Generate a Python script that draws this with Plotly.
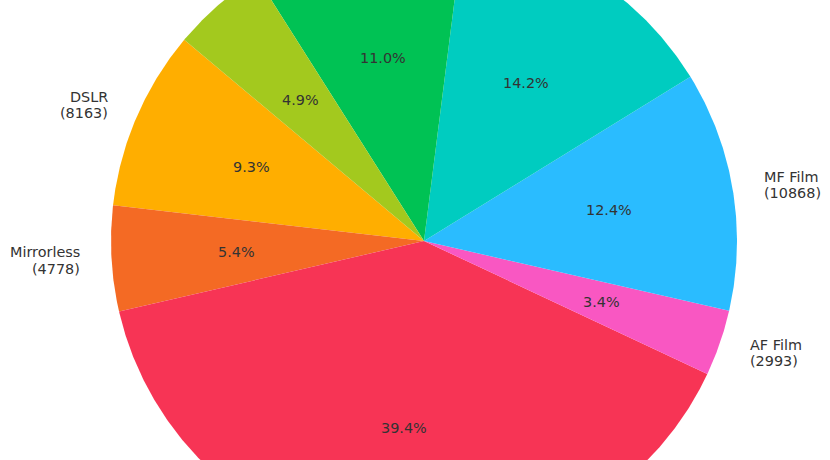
import numpy as np
import plotly.graph_objects as go

# camera types, in drawing order (counter-clockwise from startangle)
labels = ['DSLR', 'Mirrorless', 'Smartphone', 'AF Film', 'MF Film', 'Compact', 'Instant', 'Action Cam']
counts = [8163, 4778, 34605, 2993, 10868, 12472, 9661, 4304]
colors = ['#FFAE00', '#F46A24', '#F73455', '#F957C2', '#2ABCFF', '#00CCC0', '#00C254', '#A3C91E']

start_angle = 140.0
total = float(sum(counts))

fig = go.Figure()

# center / radius in data units; axis ranges picked so 1 unit = 313 px
cx, cy = 0.0, 0.0
px = 313.0
x_rng = [-424 / px, (830 - 424) / px]
y_rng = [-(460 - 241) / px, 241 / px]

font = dict(family='DejaVu Sans', size=14.4, color='#333333')

ang = start_angle
for lab, n, col in zip(labels, counts, colors):
  span = n / total * 360.0
  t = np.radians(np.linspace(ang, ang + span, max(int(span * 3), 4)))
  xs = np.concatenate([[cx], cx + np.cos(t), [cx]])
  ys = np.concatenate([[cy], cy + np.sin(t), [cy]])
  fig.add_trace(go.Scatter(
    x=xs, y=ys, mode='lines', fill='toself', fillcolor=col,
    line=dict(width=0, color=col), hoverinfo='skip', showlegend=False,
  ))

  mid = np.radians(ang + span / 2)
  # percent inside at 0.6 r
  fig.add_annotation(
    x=0.6 * np.cos(mid), y=0.6 * np.sin(mid), text='{:.1f}%'.format(n / total * 100),
    showarrow=False, xanchor='center', yanchor='middle', font=font,
  )
  # label outside at 1.1 r, two lines
  lx, ly = 1.1 * np.cos(mid), 1.1 * np.sin(mid)
  side = 'left' if lx > 0 else 'right'
  for txt, dy in [(lab, 8.3), ('({})'.format(n), -8.3)]:
    fig.add_annotation(
      x=lx, y=ly, text=txt, yshift=dy, xshift=-2 if lx > 0 else 2,
      showarrow=False, xanchor=side, yanchor='middle', font=font,
    )
  ang += span

fig.update_layout(
  width=830, height=460,
  margin=dict(l=0, r=0, t=0, b=0),
  paper_bgcolor='white', plot_bgcolor='white',
  xaxis=dict(range=x_rng, visible=False, fixedrange=True),
  yaxis=dict(range=y_rng, visible=False, fixedrange=True),
)

fig.write_html('out.html', config={'displayModeBar': False},
               post_script="document.body.style.margin='0';")
